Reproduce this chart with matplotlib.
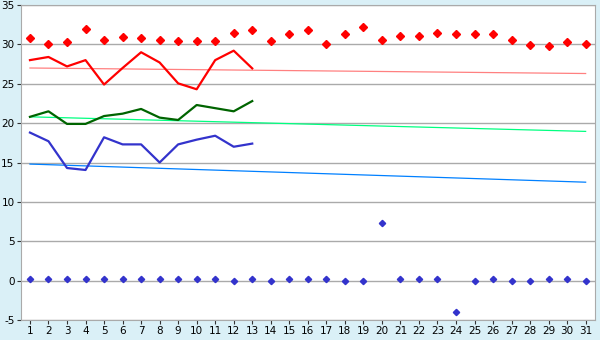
import numpy as np
import matplotlib.pyplot as plt

plt.rcParams['axes.unicode_minus'] = False

days = np.arange(1, 32)

max_pts = [30.8, 30.1, 30.3, 32.0, 30.6, 30.9, 30.8, 30.5, 30.4, 30.4,
           30.4, 31.4, 31.8, 30.4, 31.3, 31.8, 30.0, 31.3, 32.2, 30.6,
           31.1, 31.0, 31.5, 31.3, 31.3, 31.3, 30.6, 29.9, 29.8, 30.3, 30.0]
low_pts = [0.15, 0.15, 0.15, 0.15, 0.15, 0.15, 0.15, 0.15, 0.15, 0.15,
           0.15, 0.0, 0.15, 0.0, 0.15, 0.15, 0.15, 0.0, 0.0, 7.3,
           0.15, 0.15, 0.15, -4.0, 0.0, 0.15, 0.0, 0.0, 0.15, 0.15, 0.0]

red_line = [28.0, 28.4, 27.2, 28.0, 24.9, 27.0, 29.0, 27.7, 25.05, 24.3, 28.0, 29.2, 26.95]
green_line = [20.8, 21.5, 19.9, 19.9, 20.9, 21.2, 21.8, 20.7, 20.4, 22.3, 21.9, 21.5, 22.8]
blue_line = [18.8, 17.7, 14.3, 14.05, 18.2, 17.3, 17.3, 15.0, 17.3, 17.9, 18.4, 17.0, 17.4]

# trend lines: value at day 1 and day 31
red_trend = [27.0, 26.3]
green_trend = [20.8, 18.95]
blue_trend = [14.8, 12.5]

fig = plt.figure(figsize=(6, 3.4), dpi=100, facecolor='#daf0f7')
ax = fig.add_axes([0.0345, 0.0588, 0.957, 0.9265])
ax.set_facecolor('white')

ax.plot([1, 31], red_trend, color='#ff8080', lw=0.9)
ax.plot([1, 31], green_trend, color='#00ff80', lw=0.9)
ax.plot([1, 31], blue_trend, color='#0080ff', lw=0.9)

n = len(red_line)
ax.plot(days[:n], red_line, color='#ff0000', lw=1.6)
ax.plot(days[:n], green_line, color='#006400', lw=1.6)
ax.plot(days[:n], blue_line, color='#3333cc', lw=1.6)

ax.plot(days, max_pts, 'D', color='#ff0000', ms=3.8, ls='none')
ax.plot(days, low_pts, 'D', color='#3333cc', ms=3.2, ls='none')

ax.set_xlim(0.5, 31.5)
ax.set_ylim(-5, 35)
ax.set_xticks(days)
ax.set_yticks(range(-5, 36, 5))
ax.yaxis.grid(True, color='#aaaaaa', lw=1)
ax.set_axisbelow(True)
for s in ax.spines.values():
    s.set_color('#aaaaaa')
ax.tick_params(labelcolor='#000000', labelsize=7.5, length=3, width=0.8, pad=1.5, color='#333333')

fig.savefig('out.png', dpi=100, facecolor=fig.get_facecolor())
